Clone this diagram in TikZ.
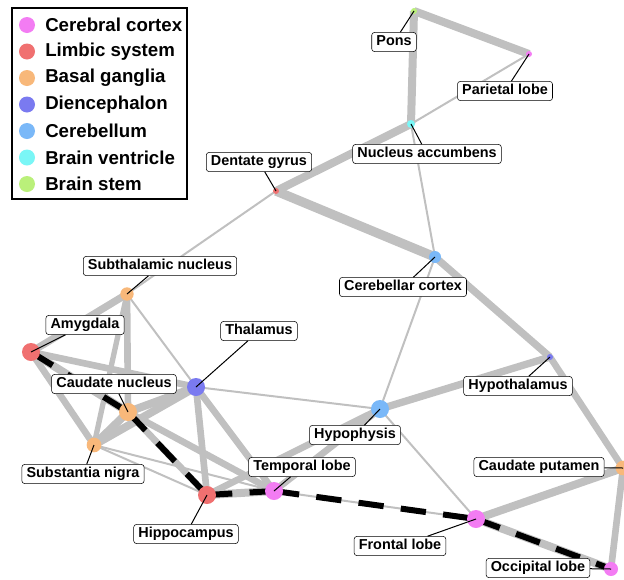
\documentclass[tikz,border=0pt]{standalone}
\usepackage{fontspec}
\setmainfont{Liberation Sans}
\usetikzlibrary{backgrounds}
\definecolor{cortexcol}{RGB}{243,124,243}
\definecolor{limbiccol}{RGB}{240,112,112}
\definecolor{basalcol}{RGB}{248,184,122}
\definecolor{diencol}{RGB}{122,122,240}
\definecolor{cerebcol}{RGB}{122,184,248}
\definecolor{ventrcol}{RGB}{122,246,246}
\definecolor{stemcol}{RGB}{186,240,122}
\definecolor{edgegray}{RGB}{192,192,192}
\begin{document}
\begin{tikzpicture}[
		x=0.75pt, y=-0.75pt,
		vtx/.style={circle, inner sep=0pt, minimum size=#1},
		vtx/.default=13.5pt,
		lbl/.style={draw, rounded corners=2pt, fill=white, inner xsep=3.5pt, inner ysep=2pt,
				text height=8pt, text depth=2.3pt, font=\bfseries\fontsize{10.8}{12}\selectfont},
		lead/.style={draw=black, line width=0.75pt},
		edge/.style={draw=edgegray, line width=#1},
		route/.style={draw=black, line width=4.5pt, dash pattern=on 19pt off 13pt},
		legdot/.style={circle, inner sep=0pt, minimum size=12pt},
		legtxt/.style={anchor=west, inner sep=0pt, font=\bfseries\fontsize{14}{16}\selectfont}
	]
	\useasboundingbox (0,0) rectangle (624,579);

	\node[vtx=4.5pt, fill=stemcol] (pons) at (414,11) {};
	\node[vtx=4.5pt, fill=cortexcol] (parietal) at (529,54) {};
	\node[vtx=6pt, fill=ventrcol] (nacc) at (411,124) {};
	\node[vtx=4.5pt, fill=limbiccol] (dentate) at (276,191) {};
	\node[vtx=9pt, fill=cerebcol] (cerebc) at (435,257) {};
	\node[vtx=10pt, fill=basalcol] (subth) at (127,294) {};
	\node[vtx, fill=limbiccol] (amyg) at (31,352) {};
	\node[vtx, fill=diencol] (thal) at (196,387) {};
	\node[vtx=4.5pt, fill=diencol] (hypothal) at (550,357) {};
	\node[vtx, fill=basalcol] (caudn) at (128,412) {};
	\node[vtx, fill=cerebcol] (hypoph) at (380,409) {};
	\node[vtx=11pt, fill=basalcol] (subnig) at (94,445) {};
	\node[vtx, fill=limbiccol] (hippo) at (207,495) {};
	\node[vtx, fill=cortexcol] (temporal) at (274,491) {};
	\node[vtx, fill=cortexcol] (frontal) at (476,519) {};
	\node[vtx=11pt, fill=basalcol] (cputamen) at (623,468) {};
	\node[vtx=10.5pt, fill=cortexcol] (occip) at (611,569) {};

	\begin{pgfonlayer}{background}
		\foreach \a/\b/\w in {pons/parietal/6pt, pons/nacc/6pt, parietal/nacc/1.5pt,
				nacc/dentate/6pt, nacc/cerebc/1.5pt, dentate/cerebc/7pt, dentate/subth/1.5pt,
				cerebc/hypothal/5.5pt, cerebc/hypoph/1.5pt, hypothal/hypoph/5.5pt,
				hypothal/cputamen/5pt, cputamen/frontal/6pt, cputamen/occip/5pt,
				frontal/occip/6pt, hypoph/frontal/1.5pt, hypoph/thal/1.5pt,
				hypoph/temporal/5pt, hypoph/hippo/5pt, subth/amyg/5.5pt, subth/caudn/5pt,
				subth/subnig/4pt, subth/thal/1.5pt, amyg/caudn/6pt, amyg/thal/5pt,
				amyg/subnig/5pt, subnig/caudn/6pt, subnig/thal/6pt, subnig/hippo/1.5pt,
				subnig/temporal/1.5pt, caudn/thal/6pt, caudn/hippo/5pt, caudn/temporal/5pt,
				thal/hippo/5pt, thal/temporal/5pt, hippo/temporal/6pt, temporal/frontal/1.5pt}
			\draw[edge=\w] (\a.center) -- (\b.center);
		\foreach \a/\b in {amyg/caudn, caudn/hippo, hippo/temporal, temporal/frontal, frontal/occip}
			\draw[route] (\a.center) -- (\b.center);
	\end{pgfonlayer}

	\node[lbl] (pons-lab) at (394,42) {Pons};
	\node[lbl] (parietal-lab) at (505,91) {Parietal lobe};
	\node[lbl] (nacc-lab) at (427,154) {Nucleus accumbens};
	\node[lbl] (dentate-lab) at (259,162) {Dentate gyrus};
	\node[lbl] (subth-lab) at (160,266) {Subthalamic nucleus};
	\node[lbl] (cerebc-lab) at (403,287) {Cerebellar cortex};
	\node[lbl] (amyg-lab) at (85,325) {Amygdala};
	\node[lbl] (thal-lab) at (259,331) {Thalamus};
	\node[lbl] (caudn-lab) at (114,384) {Caudate nucleus};
	\node[lbl] (hypothal-lab) at (518,386) {Hypothalamus};
	\node[lbl] (hypoph-lab) at (355,435) {Hypophysis};
	\node[lbl] (temporal-lab) at (302,467) {Temporal lobe};
	\node[lbl] (subnig-lab) at (83,474) {Substantia nigra};
	\node[lbl] (cputamen-lab) at (539,467) {Caudate putamen};
	\node[lbl] (hippo-lab) at (186,534) {Hippocampus};
	\node[lbl] (frontal-lab) at (400,546) {Frontal lobe};
	\node[lbl] (occip-lab) at (538,568) {Occipital lobe};

	\foreach \n in {pons, parietal, nacc, dentate, subth, cerebc, amyg, thal, caudn,
			hypothal, hypoph, temporal, subnig, cputamen, hippo, frontal, occip}
		\draw[lead] (\n.center) -- (\n-lab);

	\draw[line width=0.8pt, fill=white] (12,8) rectangle (187,199);
	\foreach \col/\txt [count=\i] in {cortexcol/Cerebral cortex, limbiccol/Limbic system,
			basalcol/Basal ganglia, diencol/Diencephalon, cerebcol/Cerebellum,
			ventrcol/Brain ventricle, stemcol/Brain stem}
	{
		\node[legdot, fill=\col] (dot\i) at (27,{25+26.5*(\i-1)}) {};
		\node[legtxt] (txt\i) at (45,{25+26.5*(\i-1)}) {\txt};
	}
\end{tikzpicture}
\end{document}
